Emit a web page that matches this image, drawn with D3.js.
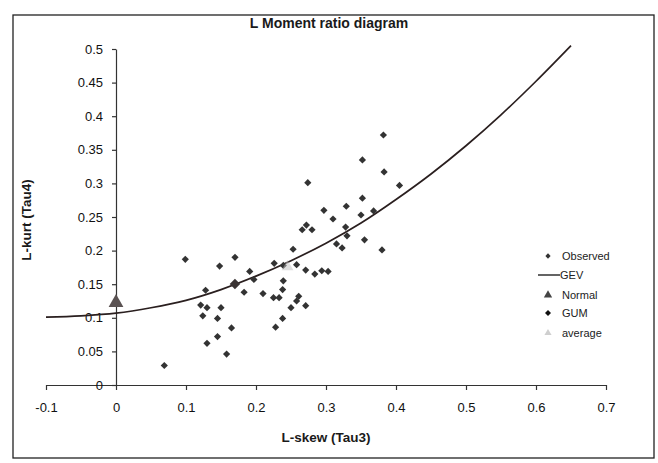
<!DOCTYPE html>
<html>
<head>
<meta charset="utf-8">
<script src="https://cdn.jsdelivr.net/npm/d3@7"></script>
<style>
  body { margin: 0; background: #fff; }
  svg { display: block; font-family: "Liberation Sans", Arial, sans-serif; }
  .axis path, .axis line { stroke: #333; stroke-width: 1.2; }
  .axis text { font-size: 13px; fill: #111; }
</style>
</head>
<body>
<div id="chart"></div>
<script>
// observed L-moment ratios (tau3, tau4)
var obsTau3 = [0.069, 0.099, 0.170, 0.148, 0.253, 0.266, 0.280, 0.128, 0.191, 0.226,
  0.258, 0.271, 0.284, 0.294, 0.303, 0.315, 0.183, 0.210, 0.225, 0.233,
  0.239, 0.238, 0.261, 0.258, 0.271, 0.250, 0.238, 0.228, 0.121, 0.130,
  0.150, 0.124, 0.145, 0.165, 0.145, 0.130, 0.158, 0.382, 0.352, 0.383,
  0.274, 0.405, 0.352, 0.297, 0.329, 0.310, 0.350, 0.368, 0.272, 0.328,
  0.330, 0.323, 0.355, 0.380, 0.197, 0.239];
var obsTau4 = [0.029, 0.187, 0.190, 0.177, 0.202, 0.231, 0.231, 0.141, 0.169, 0.181,
  0.179, 0.171, 0.165, 0.170, 0.169, 0.210, 0.138, 0.136, 0.130, 0.130,
  0.155, 0.142, 0.132, 0.125, 0.118, 0.115, 0.099, 0.086, 0.119, 0.115,
  0.115, 0.103, 0.099, 0.085, 0.072, 0.062, 0.046, 0.372, 0.335, 0.317,
  0.301, 0.297, 0.278, 0.260, 0.266, 0.247, 0.253, 0.259, 0.238, 0.235,
  0.222, 0.204, 0.216, 0.201, 0.157, 0.178];

// GEV theoretical line
var gevTau3 = [-0.1, -0.05, 0, 0.05, 0.1, 0.15, 0.2, 0.25, 0.3, 0.35, 0.4, 0.45, 0.5, 0.55, 0.6, 0.65];
var gevTau4 = [0.101, 0.103, 0.107, 0.115, 0.126, 0.142, 0.162, 0.185, 0.211, 0.241, 0.276, 0.314, 0.356, 0.402, 0.452, 0.505];

var normalPt = [0, 0.1226];
var gumPt = [0.1699, 0.1504];
var averagePt = [0.245, 0.176];

var xTicks = [-0.1, 0, 0.1, 0.2, 0.3, 0.4, 0.5, 0.6, 0.7];
var xTickLabels = ["-0.1", "0", "0.1", "0.2", "0.3", "0.4", "0.5", "0.6", "0.7"];
var yTicks = [0, 0.05, 0.1, 0.15, 0.2, 0.25, 0.3, 0.35, 0.4, 0.45, 0.5];
var yTickLabels = ["0", "0.05", "0.1", "0.15", "0.2", "0.25", "0.3", "0.35", "0.4", "0.45", "0.5"];

var legendNames = ["Observed", "GEV", "Normal", "GUM", "average"];

var W = 658, H = 463;
var svg = d3.select("#chart").append("svg").attr("width", W).attr("height", H);

// outer frame
svg.append("rect").attr("x", 13).attr("y", 15).attr("width", 641).attr("height", 443)
  .attr("fill", "#fff").attr("stroke", "#222").attr("stroke-width", 1.3);

var x = d3.scaleLinear().domain([-0.1, 0.7]).range([46, 606]);
var y = d3.scaleLinear().domain([0, 0.5]).range([385, 49]);

svg.append("text").attr("x", 329).attr("y", 28).attr("text-anchor", "middle")
  .style("font-size", "14px").style("font-weight", "bold").attr("fill", "#1a1a1a")
  .text("L Moment ratio diagram");

// axes cross at (0,0)
var xAxis = d3.axisBottom(x).tickValues(xTicks).tickSize(5).tickSizeOuter(0).tickPadding(13)
  .tickFormat(function(d, i) { return xTickLabels[i]; });
svg.append("g").attr("class", "axis").attr("transform", "translate(0," + y(0) + ")").call(xAxis);

var yAxis = d3.axisLeft(y).tickValues(yTicks).tickSize(4).tickSizeOuter(0).tickPadding(9)
  .tickFormat(function(d, i) { return yTickLabels[i]; });
svg.append("g").attr("class", "axis").attr("transform", "translate(" + x(0) + ",0)").call(yAxis);

svg.append("text").attr("x", 326).attr("y", 442).attr("text-anchor", "middle")
  .style("font-size", "13.5px").style("font-weight", "bold").attr("fill", "#1a1a1a").text("L-skew (Tau3)");
svg.append("text").attr("transform", "translate(31,220) rotate(-90)").attr("text-anchor", "middle")
  .style("font-size", "13.5px").style("font-weight", "bold").attr("fill", "#1a1a1a").text("L-kurt (Tau4)");

// GEV line
var line = d3.line().x(function(d) { return x(d[0]); }).y(function(d) { return y(d[1]); })
  .curve(d3.curveCatmullRom);
svg.append("path").datum(d3.zip(gevTau3, gevTau4)).attr("d", line)
  .attr("fill", "none").attr("stroke", "#2a1f1f").attr("stroke-width", 1.7);

// observed points
var sqr = d3.symbol().type(d3.symbolSquare);
svg.append("g").selectAll("path").data(d3.zip(obsTau3, obsTau4)).enter().append("path")
  .attr("d", sqr.size(26)())
  .attr("transform", function(d) { return "translate(" + x(d[0]) + "," + y(d[1]) + ") rotate(45)"; })
  .attr("fill", "#333");

svg.append("path").attr("d", d3.symbol().type(d3.symbolSquare).size(55)())
  .attr("transform", "translate(" + x(gumPt[0]) + "," + y(gumPt[1]) + ") rotate(45)")
  .attr("fill", "#3a3333");
svg.append("path").attr("d", d3.symbol().type(d3.symbolTriangle).size(60)())
  .attr("transform", "translate(" + x(averagePt[0]) + "," + y(averagePt[1]) + ")")
  .attr("fill", "#bdbdbd").attr("opacity", 0.5);
svg.append("path").attr("d", d3.symbol().type(d3.symbolTriangle).size(95)())
  .attr("transform", "translate(" + x(normalPt[0]) + "," + y(normalPt[1]) + ")")
  .attr("fill", "#5a5252");

// legend
var lg = svg.append("g").attr("transform", "translate(548,256)");
var rows = lg.selectAll("g").data(legendNames).enter().append("g")
  .attr("transform", function(d, i) { return "translate(0," + [0, 19, 39, 57, 77][i] + ")"; });
rows.append("text").attr("x", function(d, i) { return i === 1 ? 12 : 14; }).attr("dy", "0.35em")
  .style("font-size", "11px").attr("fill", "#222").text(function(d) { return d; });
rows.each(function(d, i) {
  var g = d3.select(this);
  if (i === 0) g.append("path").attr("d", d3.symbol().type(d3.symbolSquare).size(14)()).attr("transform", "rotate(45)").attr("fill", "#333");
  if (i === 1) g.append("line").attr("x1", -10).attr("x2", 12).attr("stroke", "#222").attr("stroke-width", 1.4);
  if (i === 2) g.append("path").attr("d", d3.symbol().type(d3.symbolTriangle).size(30)()).attr("fill", "#444");
  if (i === 3) g.append("path").attr("d", d3.symbol().type(d3.symbolSquare).size(18)()).attr("transform", "rotate(45)").attr("fill", "#111");
  if (i === 4) g.append("path").attr("d", d3.symbol().type(d3.symbolTriangle).size(22)()).attr("fill", "#cfcfcf");
});
</script>
</body>
</html>
